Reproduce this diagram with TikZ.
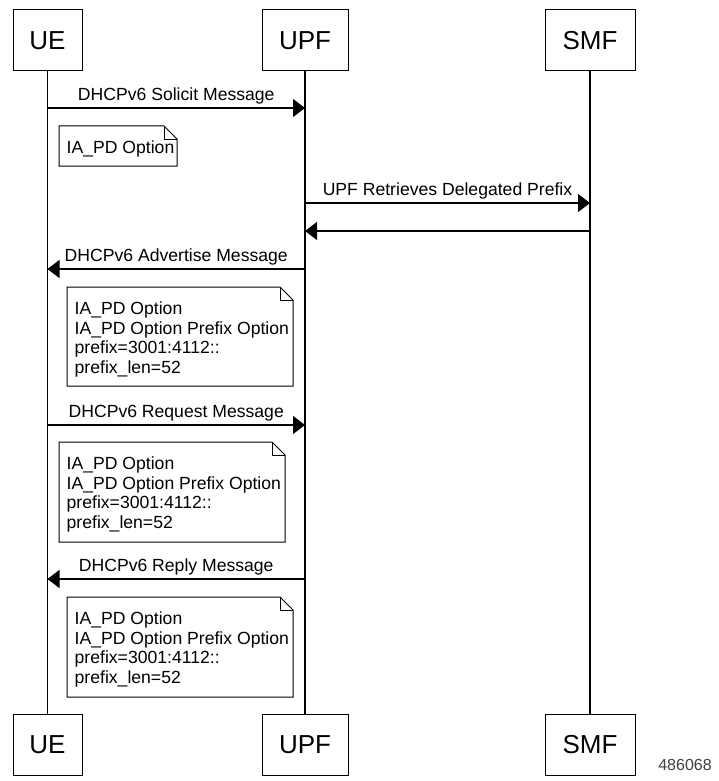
\documentclass[tikz,border=0pt]{standalone}
\usepackage{fontspec}
\setmainfont{Liberation Sans}
\usetikzlibrary{arrows.meta,calc}
\newcommand{\dognote}[6]{%
  \node[notebox, minimum width={#4-#2}, minimum height={#5-#3}] (#1) at ({(#2+#4)/2},{(#3+#5)/2}) {};
  \draw[noteline] (#1.north west) -- ([xshift=-13pt]#1.north east) -- ([yshift=-13pt]#1.north east) -- (#1.south east) -- (#1.south west) -- cycle;
  \draw[noteline] ([xshift=-13pt]#1.north east) -- ([xshift=-13pt,yshift=-13pt]#1.north east) -- ([yshift=-13pt]#1.north east);
  \node[notetext] (#1t) at ([xshift=7.5pt,yshift=-15pt]#1.north west) {#6};
}
\begin{document}
\begin{tikzpicture}[x=1pt,y=-1pt,
  actor/.style={draw, line width=1pt, font=\fontsize{26}{30}\selectfont, inner sep=0pt, minimum height=61pt},
  life/.style={line width=1.1pt},
  msg/.style={line width=1.1pt, -{Triangle[length=12pt,width=18pt]}},
  lbl/.style={font=\fontsize{17.6}{19.5}\selectfont, inner sep=0pt, above=3pt},
  notebox/.style={draw=none, inner sep=0pt, outer sep=0pt},
  notetext/.style={font=\fontsize{17.6}{19.5}\selectfont, align=left, inner sep=0pt, anchor=north west},
  noteline/.style={line width=1pt}
]
\useasboundingbox (0,0) rectangle (718,781);
% actors top
\node[actor, minimum width=69pt] (ue) at (47.5,40.5) {UE};
\node[actor, minimum width=86pt] (upf) at (305,40.5) {UPF};
\node[actor, minimum width=90pt] (smf) at (590,40.5) {SMF};
% actors bottom
\node[actor, minimum width=69pt] (ue2) at (47.5,744.5) {UE};
\node[actor, minimum width=86pt] (upf2) at (305,744.5) {UPF};
\node[actor, minimum width=90pt] (smf2) at (590,744.5) {SMF};
% lifelines
\draw[life] (ue) -- (ue2);
\draw[life] (upf) -- (upf2);
\draw[life] (smf) -- (smf2);
% message rows
\coordinate (r1) at (0,108);
\coordinate (r2) at (0,203);
\coordinate (r3) at (0,231);
\coordinate (r4) at (0,269);
\coordinate (r5) at (0,425);
\coordinate (r6) at (0,579);
\draw[msg] (ue |- r1) -- node[lbl] {DHCPv6 Solicit Message} (upf |- r1);
\draw[msg] (upf |- r2) -- node[lbl] {UPF Retrieves Delegated Prefix} (smf |- r2);
\draw[msg] (smf |- r3) -- (upf |- r3);
\draw[msg] (upf |- r4) -- node[lbl] {DHCPv6 Advertise Message} (ue |- r4);
\draw[msg] (ue |- r5) -- node[lbl] {DHCPv6 Request Message} (upf |- r5);
\draw[msg] (upf |- r6) -- node[lbl] {DHCPv6 Reply Message} (ue |- r6);
% notes
\dognote{n0}{59}{126}{177}{166}{IA\_PD Option}
\dognote{n1}{67}{287}{293}{386}{IA\_PD Option\\IA\_PD Option Prefix Option\\prefix=3001:4112::\\prefix\_len=52}
\dognote{n2}{59}{442}{285}{542}{IA\_PD Option\\IA\_PD Option Prefix Option\\prefix=3001:4112::\\prefix\_len=52}
\dognote{n3}{67}{597}{293}{697}{IA\_PD Option\\IA\_PD Option Prefix Option\\prefix=3001:4112::\\prefix\_len=52}
% figure id
\node[font=\fontsize{16}{18}\selectfont, text=black!75, inner sep=0pt] (fid) at (685,765) {486068};
\end{tikzpicture}
\end{document}
